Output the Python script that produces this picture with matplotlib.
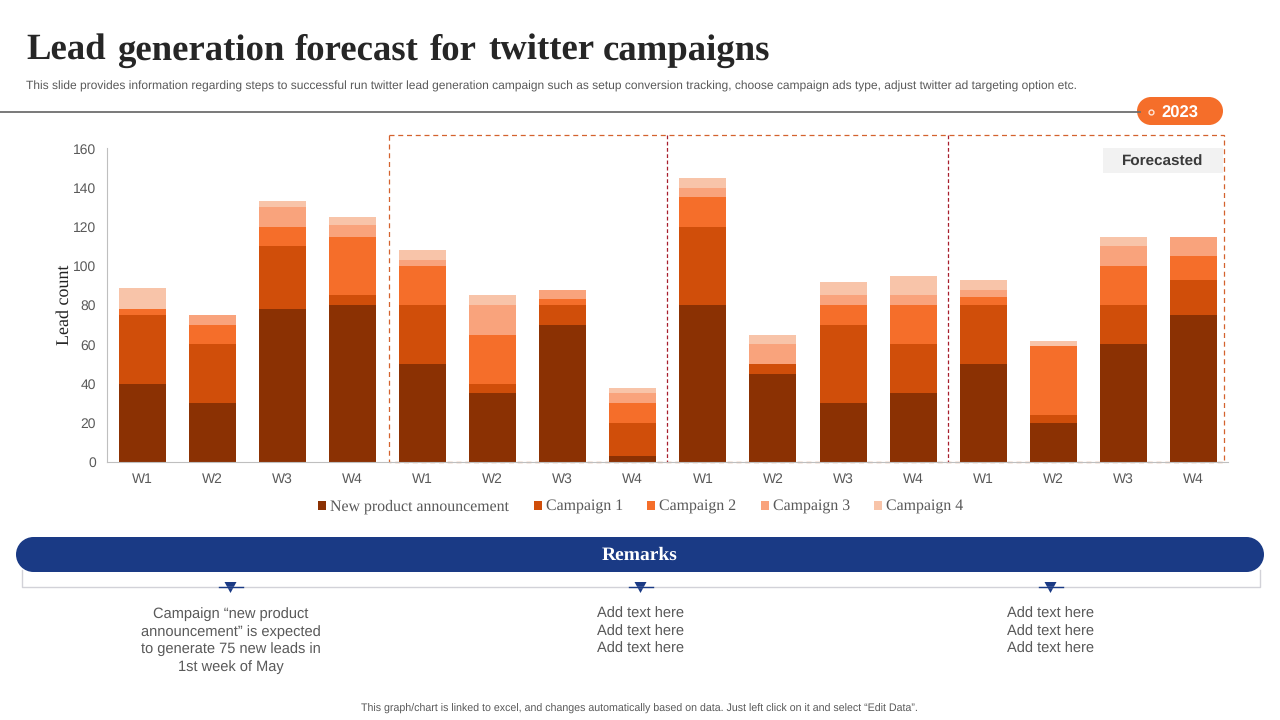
import matplotlib
matplotlib.use('Agg')
import matplotlib.pyplot as plt
import numpy as np
from matplotlib.patches import Circle, Rectangle, Polygon

plt.rcParams['font.family'] = ['Liberation Sans', 'DejaVu Sans']
plt.rcParams['text.hinting'] = 'no_hinting'

weeks = ['W1', 'W2', 'W3', 'W4'] * 4
series_names = ['New product announcement', 'Campaign 1', 'Campaign 2', 'Campaign 3', 'Campaign 4']
new_product = [40, 30, 78, 80, 50, 35, 70, 3, 80, 45, 30, 35, 50, 20, 60, 75]
campaign_1 = [35, 30, 32, 5, 30, 5, 10, 17, 40, 5, 40, 25, 30, 4, 20, 18]
campaign_2 = [3, 10, 10, 30, 20, 25, 3, 10, 15, 0, 10, 20, 4, 35, 20, 12]
campaign_3 = [0, 5, 10, 6, 3, 15, 5, 5, 5, 10, 5, 5, 4, 0, 10, 10]
campaign_4 = [11, 0, 3, 4, 5, 5, 0, 3, 5, 5, 7, 10, 5, 3, 5, 0]
colors = ['#8B3103', '#D04E0A', '#F56E2A', '#F9A37C', '#F8C4A9']
title_words = ['Lead', 'generation', 'forecast', 'for', 'twitter', 'campaigns']
remarks = ['Campaign \u201cnew product\nannouncement\u201d is expected\nto generate 75 new leads in\n1st week of May',
           'Add text here\nAdd text here\nAdd text here',
           'Add text here\nAdd text here\nAdd text here']

W, H = 1280, 720
fig = plt.figure(figsize=(12.8, 7.2), dpi=100)

# overlay in pixel coordinates for the slide decoration
bg = fig.add_axes([0, 0, 1, 1])
bg.set_xlim(0, W)
bg.set_ylim(H, 0)
bg.axis('off')


def pill(x0, y0, w, h, color):
    r = h / 2
    bg.add_patch(Rectangle((x0 + r, y0), w - h, h, fc=color, ec='none'))
    bg.add_patch(Circle((x0 + r, y0 + r), r, fc=color, ec='none'))
    bg.add_patch(Circle((x0 + w - r, y0 + r), r, fc=color, ec='none'))


ax = fig.add_axes([107.2 / W, 1 - 462 / H, 1121.3 / W, 313.5 / H])
x = np.arange(16)
bottom = np.zeros(16)
for name, vals, c in zip(series_names, [new_product, campaign_1, campaign_2, campaign_3, campaign_4], colors):
    ax.bar(x, vals, width=0.67, bottom=bottom, color=c, label=name)
    bottom += np.array(vals)
ax.set_xlim(-0.5, 15.5)
ax.set_ylim(0, 160)
ax.set_yticks(range(0, 161, 20))
ax.set_xticks(x)
ax.set_xticklabels(weeks)
ax.tick_params(axis='both', length=0, labelsize=10, labelcolor='#595959')
ax.tick_params(axis='x', pad=7.5)
ax.tick_params(axis='y', pad=8)
for s in ['top', 'right']:
    ax.spines[s].set_visible(False)
for s in ['left', 'bottom']:
    ax.spines[s].set_color('#BFBFBF')
ax.patch.set_alpha(0)
ax.set_ylabel('Lead count', family='Liberation Serif', fontsize=13, color='#222222')
ax.yaxis.set_label_coords((72 - 107) / 1121, 0.5)

leg = ax.legend(loc='upper center', bbox_to_anchor=(0.476, -0.095), ncol=5, frameon=False,
                handlelength=0.5, handleheight=0.5, handletextpad=0.25, columnspacing=1.55,
                borderpad=0, prop={'family': 'Liberation Serif', 'size': 11.4})
for t in leg.get_texts():
    t.set_color('#595959')

# header, words placed one by one for the wide word gaps
for word, wx in zip(title_words, [26, 117, 295, 430, 488, 603]):
    bg.text(wx, 60, word, family='Liberation Serif', weight='bold', fontsize=26.5,
            color='#262626', va='baseline', ha='left')
bg.text(26, 86.5, 'This slide provides information regarding steps to successful run twitter lead generation campaign such as setup conversion tracking, choose campaign ads type, adjust twitter ad targeting option etc.',
        fontsize=8.63, color='#595959', va='center', ha='left')
bg.plot([0, 1140], [111.5, 111.5], color='#6E6E6E', lw=1.3)
pill(1137, 97, 86, 28, '#F56E2A')
bg.plot([1151], [112], marker='o', ms=3.5, mfc='none', mec='#FFE3D3', mew=1)
bg.text(1180, 113, '2023', fontsize=12, weight='bold', color='white', va='center', ha='center')

# forecast boxes
bg.add_patch(Rectangle((388.5, 135), 835.5, 327, fc='none', ec='#D4622E', lw=0.9, ls=(0, (4, 3))))
for px in [667, 948]:
    bg.plot([px, px], [135, 462], color='#A81E2C', lw=0.9, ls=(0, (3, 2)))
bg.add_patch(Rectangle((1103, 148), 120, 25, fc='#F2F2F2', ec='none'))
bg.text(1163, 161.5, 'Forecasted', fontsize=11, weight='bold', color='#3A3A3A', va='center', ha='center')

# remarks
bg.plot([21.5, 21.5, 1259.5, 1259.5], [570, 587, 587, 570], color='#D2D2D8', lw=1)
pill(16, 537, 1248, 35, '#1A3A85')
bg.text(640, 555.5, 'Remarks', family='Liberation Serif', weight='bold', fontsize=14, color='white', va='center', ha='center')
for cx, txt in zip([230.5, 640.5, 1050.5], remarks):
    bg.plot([cx - 12, cx + 12], [587, 587], color='#1A3A85', lw=1)
    bg.add_patch(Polygon([[cx - 6, 582], [cx + 6, 582], [cx, 593]], fc='#1A3A85', ec='none'))
    for i, line in enumerate(txt.split('\n')):
        bg.text(cx, 614 + i * 17.6, line, fontsize=10.5, color='#595959', va='center', ha='center')

bg.text(639, 708.5, 'This graph/chart is linked to excel, and changes automatically based on data. Just left click on it and select \u201cEdit Data\u201d.',
        fontsize=7.7, color='#595959', va='center', ha='center')

fig.savefig('out.png', dpi=100)
